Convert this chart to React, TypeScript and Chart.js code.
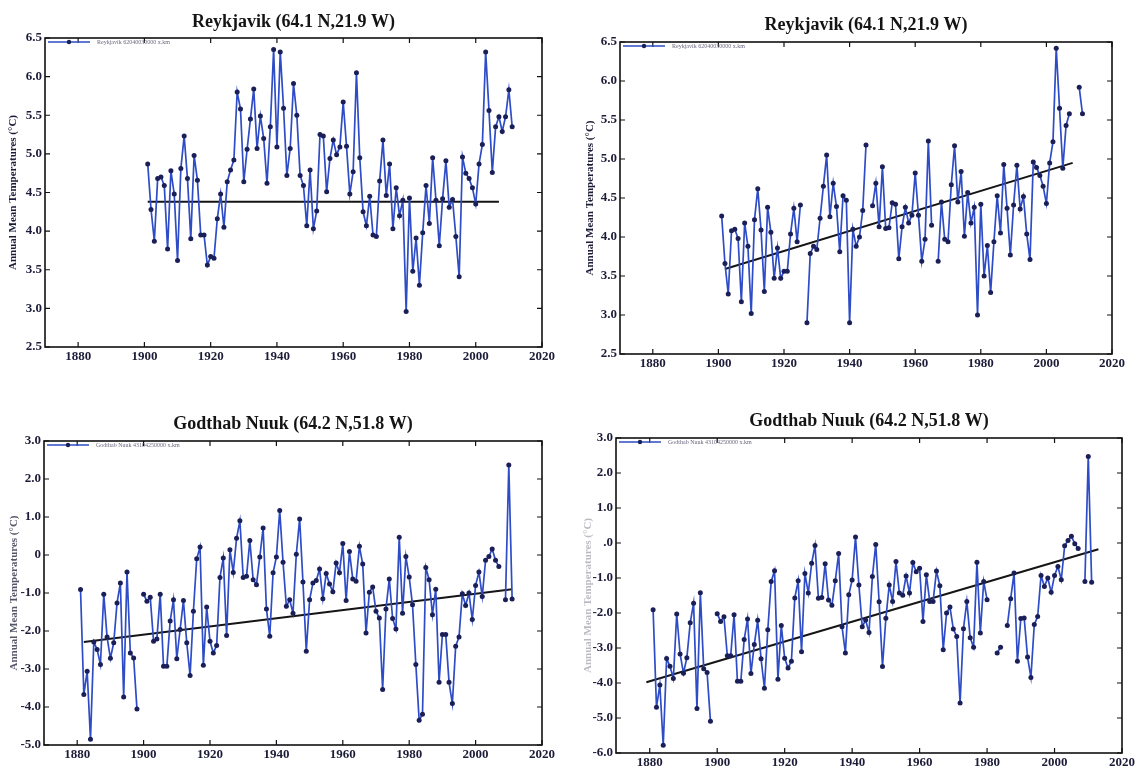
import React, { useEffect, useRef } from "react";
import { Chart, registerables } from "chart.js";

Chart.register(...registerables);

// ---------- data ----------
const xTickYears = [1880, 1900, 1920, 1940, 1960, 1980, 2000, 2020];

// Reykjavik, unadjusted (top-left) 1901..2011
const reykRawStart = 1901;
const reykRawTemps = [
  4.87, 4.28, 3.87, 4.68, 4.7, 4.59, 3.77, 4.78, 4.48, 3.62,
  4.81, 5.23, 4.68, 3.9, 4.98, 4.66, 3.95, 3.95, 3.56, 3.67,
  3.65, 4.16, 4.48, 4.05, 4.64, 4.79, 4.92, 5.8, 5.58, 4.64,
  5.06, 5.45, 5.84, 5.07, 5.49, 5.2, 4.62, 5.35, 6.35, 5.09,
  6.32, 5.59, 4.72, 5.07, 5.91, 5.5, 4.72, 4.59, 4.07, 4.79,
  4.03, 4.26, 5.25, 5.23, 4.51, 4.94, 5.18, 4.99, 5.09, 5.67,
  5.1, 4.48, 4.77, 6.05, 4.95, 4.25, 4.07, 4.45, 3.95, 3.93,
  4.65, 5.18, 4.46, 4.87, 4.03, 4.56, 4.2, 4.4, 2.96, 4.43,
  3.48, 3.91, 3.3, 3.98, 4.59, 4.1, 4.95, 4.4, 3.81, 4.42,
  4.91, 4.31, 4.41, 3.93, 3.41, 4.96, 4.75, 4.68, 4.56, 4.35,
  4.87, 5.12, 6.32, 5.56, 4.76, 5.35, 5.48, 5.29, 5.48, 5.83,
  5.35,
];
const reykRawTrendYears = [1901, 2007];
const reykRawTrendValues = [4.38, 4.38];

// Reykjavik, adjusted (top-right) 1901..2011
const reykAdjStart = 1901;
const reykAdjTemps = [
  4.27, 3.66, 3.27, 4.08, 4.1, 3.98, 3.17, 4.18, 3.88, 3.02,
  4.22, 4.62, 4.09, 3.3, 4.38, 4.06, 3.47, 3.86, 3.47, 3.56,
  3.56, 4.04, 4.37, 3.94, 4.41, null, 2.9, 3.79, 3.88, 3.84,
  4.24, 4.65, 5.05, 4.26, 4.69, 4.39, 3.81, 4.53, 4.47, 2.9,
  4.1, 3.88, 4.0, 4.34, 5.18, null, 4.4, 4.69, 4.13, 4.9,
  4.11, 4.12, 4.44, 4.42, 3.72, 4.13, 4.38, 4.18, 4.28, 4.82,
  4.28, 3.69, 3.97, 5.23, 4.15, null, 3.69, 4.45, 3.97, 3.94,
  4.67, 5.17, 4.45, 4.84, 4.01, 4.57, 4.18, 4.38, 3.0, 4.42,
  3.5, 3.89, 3.29, 3.94, 4.53, 4.05, 4.93, 4.37, 3.77, 4.41,
  4.92, 4.36, 4.52, 4.04, 3.71, 4.96, 4.89, 4.79, 4.65, 4.43,
  4.95, 5.22, 6.42, 5.65, 4.88, 5.43, 5.58, null, null, 5.92,
  5.58,
];
const reykAdjTrendYears = [1902, 2008];
const reykAdjTrendValues = [3.59, 4.95];

// Godthab Nuuk, unadjusted (bottom-left) 1881..2011
const nuukRawStart = 1881;
const nuukRawTemps = [
  -0.91, -3.67, -3.06, -4.85, -2.29, -2.49, -2.88, -1.03, -2.16, -2.72,
  -2.31, -1.26, -0.74, -3.74, -0.45, -2.58, -2.71, -4.05, null, -1.03,
  -1.22, -1.11, -2.27, -2.21, -1.03, -2.93, -2.93, -1.74, -1.18, -2.73,
  -1.96, -1.2, -2.31, -3.17, -1.48, -0.1, 0.21, -2.9, -1.37, -2.27,
  -2.58, -2.38, -0.59, -0.08, -2.12, 0.14, -0.46, 0.44, 0.9, -0.59,
  -0.56, 0.38, -0.65, -0.78, -0.05, 0.71, -1.42, -2.14, -0.47, -0.05,
  1.17, -0.19, -1.35, -1.18, -1.53, 0.02, 0.95, -0.71, -2.53, -1.18,
  -0.74, -0.67, -0.37, -1.15, -0.49, -0.76, -0.97, -0.21, -0.47, 0.3,
  -1.2, 0.09, -0.63, -0.69, 0.23, -0.24, -2.05, -0.98, -0.84, -1.48,
  -1.66, -3.54, -1.42, -0.63, -1.67, -1.95, 0.47, -1.53, -0.04, -0.58,
  -1.31, -2.88, -4.35, -4.19, -0.33, -0.65, -1.57, -0.9, -3.35, -2.09,
  -2.09, -3.35, -3.91, -2.4, -2.16, -1.02, -1.33, -1.0, -1.7, -0.8,
  -0.45, -1.09, -0.14, -0.04, 0.16, -0.14, -0.3, null, -1.18, 2.37,
  -1.16,
];
const nuukRawTrendYears = [1882, 2011];
const nuukRawTrendValues = [-2.29, -0.9];

// Godthab Nuuk, adjusted (bottom-right) 1881..2011
const nuukAdjStart = 1881;
const nuukAdjTemps = [
  -1.91, -4.69, -4.06, -5.78, -3.3, -3.52, -3.87, -2.03, -3.17, -3.72,
  -3.28, -2.28, -1.72, -4.73, -1.42, -3.59, -3.7, -5.09, null, -2.02,
  -2.24, -2.11, -3.22, -3.22, -2.05, -3.95, -3.95, -2.76, -2.17, -3.73,
  -2.9, -2.21, -3.31, -4.15, -2.48, -1.1, -0.79, -3.89, -2.36, -3.29,
  -3.57, -3.38, -1.57, -1.08, -3.11, -0.87, -1.43, -0.58, -0.07, -1.58,
  -1.56, -0.59, -1.63, -1.78, -1.08, -0.3, -2.39, -3.14, -1.48, -1.06,
  0.17, -1.2, -2.39, -2.2, -2.56, -0.96, -0.04, -1.68, -3.53, -2.15,
  -1.2, -1.67, -0.53, -1.43, -1.49, -0.94, -1.43, -0.56, -0.82, -0.72,
  -2.24, -0.91, -1.67, -1.67, -0.8, -1.22, -3.05, -2.0, -1.83, -2.46,
  -2.67, -4.57, -2.45, -1.67, -2.71, -2.98, -0.55, -2.57, -1.1, -1.62,
  null, null, -3.14, -2.98, null, -2.36, -1.59, -0.86, -3.38, -2.16,
  -2.14, -3.26, -3.84, -2.33, -2.1, -0.93, -1.24, -1.0, -1.41, -0.93,
  -0.67, -1.05, -0.08, 0.07, 0.19, -0.02, -0.16, null, -1.1, 2.47,
  -1.12,
];
const nuukAdjTrendYears = [1879, 2013];
const nuukAdjTrendValues = [-3.98, -0.18];

const reykYTicks = [2.5, 3.0, 3.5, 4.0, 4.5, 5.0, 5.5, 6.0, 6.5];
const reykYLabels = ["2.5", "3.0", "3.5", "4.0", "4.5", "5.0", "5.5", "6.0", "6.5"];
const nuukRawYTicks = [-5, -4, -3, -2, -1, 0, 1, 2, 3];
const nuukRawYLabels = ["-5.0", "-4.0", "-3.0", "-2.0", "-1.0", "0", "1.0", "2.0", "3.0"];
const nuukAdjYTicks = [-6, -5, -4, -3, -2, -1, 0, 1, 2, 3];
const nuukAdjYLabels = ["-6.0", "-5.0", "-4.0", "-3.0", "-2.0", "-1.0", ".0", "1.0", "2.0", "3.0"];

const reykTitle = "Reykjavik (64.1 N,21.9 W)";
const nuukTitle = "Godthab Nuuk (64.2 N,51.8 W)";
const yAxisTitle = "Annual Mean Temperatures (°C)";

// ---------- styling ----------
const SERIF = '"Liberation Serif", "Times New Roman", serif';
const LINE_BLUE = "#2e4cc6";
const MARKER = "#1b1f58";
const TEXT = "#1c1c38";
const TITLE_SIZE = 18;

type PanelDef = {
  left: number; top: number; w: number; h: number;
  plotLeft: number; plotRight: number; plotTop: number; plotBottom: number;
  titleY: number; yTitleX: number; yTitleColor: string;
  title: string; label: string;
  start: number; temps: (number | null)[];
  trendYears: number[]; trendValues: number[];
  yMin: number; yMax: number; yTicks: number[]; yLabels: string[];
};

const panels: PanelDef[] = [
  {
    left: 0, top: 0, w: 570, h: 384,
    plotLeft: 45, plotRight: 542, plotTop: 38, plotBottom: 347,
    titleY: 22, yTitleX: 13, yTitleColor: TEXT,
    title: reykTitle, label: "Reykjavik 62040030000 x.km",
    start: reykRawStart, temps: reykRawTemps,
    trendYears: reykRawTrendYears, trendValues: reykRawTrendValues,
    yMin: 2.5, yMax: 6.5, yTicks: reykYTicks, yLabels: reykYLabels,
  },
  {
    left: 570, top: 0, w: 570, h: 384,
    plotLeft: 50, plotRight: 542, plotTop: 42, plotBottom: 354,
    titleY: 25, yTitleX: 20, yTitleColor: TEXT,
    title: reykTitle, label: "Reykjavik 62040030000 x.km",
    start: reykAdjStart, temps: reykAdjTemps,
    trendYears: reykAdjTrendYears, trendValues: reykAdjTrendValues,
    yMin: 2.5, yMax: 6.5, yTicks: reykYTicks, yLabels: reykYLabels,
  },
  {
    left: 0, top: 384, w: 570, h: 385,
    plotLeft: 44, plotRight: 542, plotTop: 57, plotBottom: 361,
    titleY: 40, yTitleX: 14, yTitleColor: "rgba(28,28,56,0.75)",
    title: nuukTitle, label: "Godthab Nuuk 43104250000 x.km",
    start: nuukRawStart, temps: nuukRawTemps,
    trendYears: nuukRawTrendYears, trendValues: nuukRawTrendValues,
    yMin: -5, yMax: 3, yTicks: nuukRawYTicks, yLabels: nuukRawYLabels,
  },
  {
    left: 570, top: 384, w: 570, h: 385,
    plotLeft: 46, plotRight: 552, plotTop: 54, plotBottom: 369,
    titleY: 37, yTitleX: 18, yTitleColor: "rgba(28,28,56,0.3)",
    title: nuukTitle, label: "Godthab Nuuk 43104250000 x.km",
    start: nuukAdjStart, temps: nuukAdjTemps,
    trendYears: nuukAdjTrendYears, trendValues: nuukAdjTrendValues,
    yMin: -6, yMax: 3, yTicks: nuukAdjYTicks, yLabels: nuukAdjYLabels,
  },
];

// ---------- plugins ----------
const framePlugin = {
  id: "frame",
  beforeDatasetsDraw(chart: any) {
    const { ctx, chartArea: a, scales } = chart;
    ctx.save();
    ctx.strokeStyle = "#111";
    ctx.lineWidth = 1.6;
    ctx.strokeRect(a.left, a.top, a.right - a.left, a.bottom - a.top);
    ctx.lineWidth = 1.2;
    ctx.beginPath();
    scales.x.ticks.forEach((t: any) => {
      const px = scales.x.getPixelForValue(t.value);
      ctx.moveTo(px, a.bottom); ctx.lineTo(px, a.bottom - 5);
      ctx.moveTo(px, a.top); ctx.lineTo(px, a.top + 5);
    });
    scales.y.ticks.forEach((t: any) => {
      const py = scales.y.getPixelForValue(t.value);
      ctx.moveTo(a.left, py); ctx.lineTo(a.left + 5, py);
      ctx.moveTo(a.right, py); ctx.lineTo(a.right - 5, py);
    });
    ctx.stroke();
    ctx.restore();
  },
};

const miniLegendPlugin = {
  id: "miniLegend",
  afterDatasetsDraw(chart: any) {
    const { ctx, chartArea: a } = chart;
    const ds = chart.data.datasets[0];
    const y = a.top + 4;
    ctx.save();
    ctx.strokeStyle = ds.borderColor;
    ctx.lineWidth = 1.5;
    ctx.beginPath();
    ctx.moveTo(a.left + 3, y);
    ctx.lineTo(a.left + 45, y);
    ctx.stroke();
    ctx.fillStyle = MARKER;
    ctx.beginPath();
    ctx.arc(a.left + 24, y, 2.2, 0, Math.PI * 2);
    ctx.fill();
    ctx.font = `6px ${SERIF}`;
    ctx.fillStyle = "#6a6a80";
    ctx.textBaseline = "middle";
    ctx.fillText(ds.label, a.left + 52, y + 0.5);
    ctx.restore();
  },
};

function buildChart(canvas: HTMLCanvasElement, p: PanelDef) {
  const series = p.temps.map((v, i) => ({ x: p.start + i, y: v }));
  const trend = p.trendYears.map((yr, i) => ({ x: yr, y: p.trendValues[i] }));
  const tickFont = { family: SERIF, size: 13, weight: "bold" as const };
  const half = (TITLE_SIZE * 1.2) / 2;
  return new Chart(canvas, {
    type: "line",
    data: {
      datasets: [
        {
          label: p.label,
          data: series,
          borderColor: LINE_BLUE,
          borderWidth: 1.7,
          pointRadius: 2.5,
          pointBackgroundColor: MARKER,
          pointBorderColor: MARKER,
          pointBorderWidth: 0,
          spanGaps: false,
          tension: 0,
        },
        {
          label: "trend",
          data: trend,
          borderColor: "#151515",
          borderWidth: 2,
          pointRadius: 0,
          tension: 0,
        },
      ],
    },
    options: {
      responsive: false,
      animation: false,
      events: [],
      layout: { padding: { left: 0, right: p.w - p.plotRight, top: 0, bottom: 0 } },
      plugins: {
        legend: { display: false },
        tooltip: { enabled: false },
        title: {
          display: true,
          text: p.title,
          fullSize: false,
          color: "#141414",
          font: { family: SERIF, size: TITLE_SIZE, weight: "bold", lineHeight: 1.2 },
          padding: { top: p.titleY - half, bottom: p.plotTop - p.titleY - half },
        },
      },
      scales: {
        x: {
          type: "linear",
          min: 1870,
          max: 2020,
          grid: { display: false, drawTicks: false },
          border: { display: false },
          afterBuildTicks: (s: any) => {
            s.ticks = xTickYears.map((v) => ({ value: v }));
          },
          afterFit: (s: any) => {
            s.height = p.h - p.plotBottom;
          },
          ticks: {
            padding: 2,
            autoSkip: false,
            maxRotation: 0,
            color: TEXT,
            font: tickFont,
            callback: (v: any) => String(v),
          },
        },
        y: {
          type: "linear",
          min: p.yMin,
          max: p.yMax,
          grid: { display: false, drawTicks: false },
          border: { display: false },
          afterBuildTicks: (s: any) => {
            s.ticks = p.yTicks.map((v) => ({ value: v }));
          },
          afterFit: (s: any) => {
            s.width = p.plotLeft;
          },
          ticks: {
            padding: 3,
            autoSkip: false,
            color: TEXT,
            font: tickFont,
            callback: (_v: any, i: number) => p.yLabels[i],
          },
          title: {
            display: true,
            text: yAxisTitle,
            color: p.yTitleColor,
            font: { family: SERIF, size: 11, weight: "bold", lineHeight: 1.2 },
            padding: { top: p.yTitleX - 6.6, bottom: 0 },
          },
        },
      },
    },
    plugins: [framePlugin, miniLegendPlugin],
  } as any);
}

export default function App() {
  const refs = [
    useRef<HTMLCanvasElement>(null),
    useRef<HTMLCanvasElement>(null),
    useRef<HTMLCanvasElement>(null),
    useRef<HTMLCanvasElement>(null),
  ];
  useEffect(() => {
    const charts = panels.map((p, i) => buildChart(refs[i].current as HTMLCanvasElement, p));
    return () => charts.forEach((c) => c.destroy());
  }, []);
  return (
    <div
      style={{
        position: "absolute",
        left: 0,
        top: 0,
        width: 1140,
        height: 769,
        background: "#ffffff",
        overflow: "hidden",
      }}
    >
      {panels.map((p, i) => (
        <canvas
          key={i}
          ref={refs[i]}
          width={p.w}
          height={p.h}
          style={{ position: "absolute", left: p.left, top: p.top, width: p.w, height: p.h, display: "block" }}
        />
      ))}
    </div>
  );
}
